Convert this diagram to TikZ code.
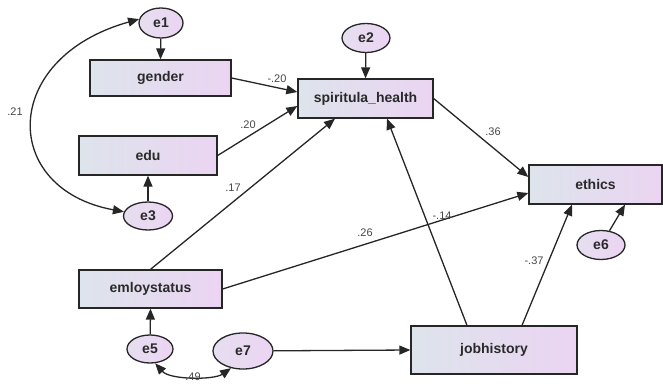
\documentclass[tikz,border=0pt]{standalone}
\usepackage{fontspec}
\setmainfont{Liberation Sans}
\usetikzlibrary{shapes.geometric,arrows.meta,calc}
\definecolor{bl}{HTML}{DDE4EC}
\definecolor{pk}{HTML}{EBD4F2}
\definecolor{lv}{HTML}{E9DDF1}
\definecolor{lc}{HTML}{262626}
\definecolor{tc}{HTML}{2A2A2A}
\tikzset{
 obs/.style={draw=lc, line width=1.3pt, left color=bl, right color=pk, inner sep=0pt,
   text=tc, font=\fontsize{14}{16}\selectfont\bfseries},
 lat/.style={ellipse, draw=lc, line width=1.3pt, left color=lv!80!bl, right color=pk, inner sep=0pt,
   text=tc, font=\fontsize{14}{16}\selectfont\bfseries},
 pth/.style={line width=1.3pt, draw=lc, -{Triangle[length=11pt,width=9pt]}},
 cov/.style={line width=1.3pt, draw=lc, {Triangle[length=11pt,width=9pt]}-{Triangle[length=11pt,width=9pt]}},
 lbl/.style={font=\fontsize{11}{13}\selectfont, text=lc!85}
}
\begin{document}
\begin{tikzpicture}[x=1pt,y=-1pt]
\useasboundingbox (0,0) rectangle (663,385);
% observed
\node[obs, minimum width=141pt, minimum height=36pt] (gen) at (160.5,78) {gender};
\node[obs, minimum width=138pt, minimum height=39pt] (edu) at (148,155.5) {edu};
\node[obs, minimum width=135pt, minimum height=39pt] (sp) at (365.5,98.5) {spiritula\_health};
\node[obs, minimum width=133pt, minimum height=39pt] (eth) at (595.5,184.5) {ethics};
\node[obs, minimum width=143pt, minimum height=38pt] (emp) at (150.5,289) {emloystatus};
\node[obs, minimum width=166pt, minimum height=48pt] (job) at (494,350) {jobhistory};
% errors
\node[lat, minimum width=44pt, minimum height=30pt] (e1) at (161,23) {e1};
\node[lat, minimum width=48pt, minimum height=29pt] (e2) at (366,38) {e2};
\node[lat, minimum width=49pt, minimum height=28pt] (e3) at (148,216) {e3};
\node[lat, minimum width=46pt, minimum height=28pt] (e5) at (150,349) {e5};
\node[lat, minimum width=48pt, minimum height=29pt] (e6) at (601,245) {e6};
\node[lat, minimum width=60pt, minimum height=36pt] (e7) at (243,351) {e7};
% error paths
\draw[pth] (e1) -- (gen.north);
\draw[pth] (e2) -- (sp.north);
\draw[pth] (e3) -- (edu.south);
\draw[pth] (e5) -- (emp.south);
\draw[pth] (e6) -- ([xshift=29.5pt]eth.south);
\draw[pth] (e7) -- (job.west);
% structural paths
\draw[pth] (gen.east) -- ([yshift=6.5pt]sp.west);
\draw[pth] (edu.east) -- ([yshift=-7.5pt]sp.west);
\draw[pth] (emp.north) -- ([xshift=-30.5pt]sp.south);
\draw[pth] ([xshift=-27pt]job.north) -- ([xshift=21.5pt]sp.south);
\draw[pth] (sp.east) -- ([yshift=7.5pt]eth.west);
\draw[pth] (emp.east) -- ([yshift=-8.5pt]eth.west);
\draw[pth] ([xshift=28pt]job.north) -- ([xshift=-23.5pt]eth.south);
% covariances
\draw[cov] (e1.170) .. controls (0,58) and (0,189) .. (e3.170);
\draw[cov] (e5.-70) .. controls (170,380) and (214,380) .. (e7.-125);
% labels
\node[lbl] (l1) at (277,79) {-.20};
\node[lbl] (l2) at (248,125) {.20};
\node[lbl] (l3) at (15,112) {.21};
\node[lbl] (l4) at (233,188) {.17};
\node[lbl] (l5) at (493,132) {.36};
\node[lbl] (l6) at (365,233) {.26};
\node[lbl] (l7) at (442,216) {-.14};
\node[lbl] (l8) at (534,261) {-.37};
\node[lbl] (l9) at (193,377) {.49};
\end{tikzpicture}
\end{document}
